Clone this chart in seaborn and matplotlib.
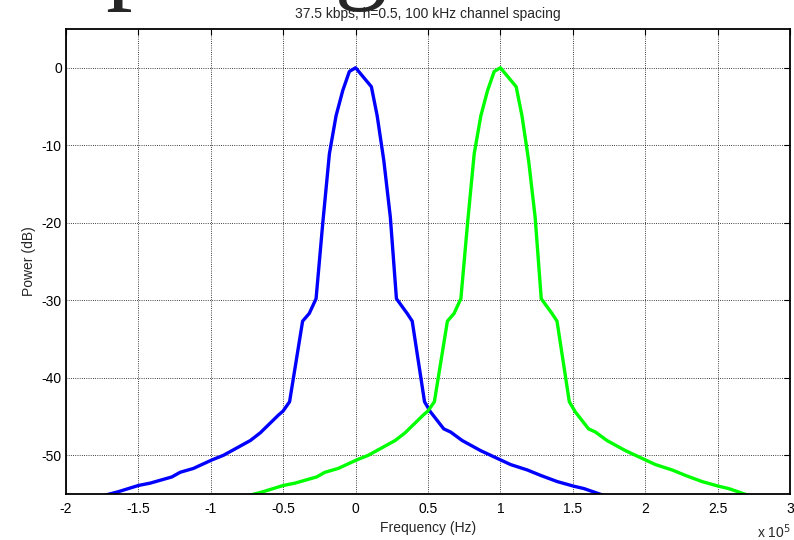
import numpy as np
import pandas as pd
import matplotlib
matplotlib.use('Agg')
import matplotlib.pyplot as plt
from matplotlib.ticker import FuncFormatter
import seaborn as sns

# frequency offsets from the carrier (units of 1e5 Hz) and power (dB)
offset = [-1.76, -1.719, -1.638, -1.5, -1.419, -1.269, -1.212, -1.12, -0.992, -0.912,
          -0.727, -0.658, -0.532, -0.501, -0.456, -0.366, -0.32, -0.273, -0.227, -0.181,
          -0.135, -0.089, -0.043, 0.0, 0.109, 0.149, 0.195, 0.24, 0.282, 0.356,
          0.391, 0.476, 0.517, 0.609, 0.656, 0.736, 0.863, 1.001, 1.07, 1.186,
          1.278, 1.393, 1.508, 1.577, 1.716, 1.76]
power = [-55.4, -55.1, -54.7, -53.9, -53.6, -52.8, -52.2, -51.7, -50.6, -50.0,
         -48.1, -47.1, -44.8, -44.3, -43.1, -32.7, -31.7, -29.8, -20.1, -11.1,
         -6.2, -2.96, -0.48, 0.0, -2.45, -6.2, -12.0, -19.3, -29.8, -31.7,
         -32.7, -43.1, -44.4, -46.6, -47.0, -48.1, -49.4, -50.6, -51.2, -51.9,
         -52.6, -53.4, -54.0, -54.3, -55.2, -55.5]
channel_spacing = 100e3   # Hz
carriers = [0.0, channel_spacing]
colors = ['#0000ff', '#00ff00']

frames = []
for k, fc in enumerate(carriers):
    frames.append(pd.DataFrame({'freq': np.array(offset) * 1e5 + fc,
                                'power': power,
                                'channel': k}))
df = pd.concat(frames, ignore_index=True)

sns.set_style('white')
plt.rcParams['font.family'] = ['Liberation Sans', 'DejaVu Sans']
plt.rcParams['axes.unicode_minus'] = False

fig = plt.figure(figsize=(7.94, 5.40), dpi=100)
ax = fig.add_axes([66 / 794, 46 / 540, 724 / 794, 465 / 540])

sns.lineplot(data=df, x='freq', y='power', hue='channel', palette=colors,
             sort=False, estimator=None, linewidth=2.4, legend=False, ax=ax)

ax.set_xlim(-2e5, 3e5)
ax.set_ylim(-55, 5)
ax.set_xticks(np.arange(-2e5, 3.01e5, 0.5e5))
ax.set_yticks(np.arange(-50, 1, 10))
ax.xaxis.set_major_formatter(FuncFormatter(lambda v, p: '%g' % (v / 1e5)))

ax.grid(True, color='black', linestyle=':', linewidth=0.6)
ax.tick_params(direction='in', length=4, width=0.8, top=True, right=True,
               labelsize=10, colors='black')
ax.tick_params(axis='x', pad=6)
ax.tick_params(axis='y', pad=3)
for s in ax.spines.values():
    s.set_color('black')
    s.set_linewidth(1.3)

ax.set_xlabel('Frequency (Hz)', fontsize=10, labelpad=3.5)
ax.set_ylabel('Power (dB)', fontsize=10, labelpad=4)
ax.set_title('37.5 kbps, h=0.5, 100 kHz channel spacing', fontsize=10, pad=8)

fig.text(757 / 794, 2 / 540, 'x 10$^{5}$', fontsize=10)
fig.text(66 / 794, 1 + 11 / 540, 'spacing', fontsize=76,
         family=['Liberation Serif', 'DejaVu Serif'], va='baseline', ha='left')

fig.savefig('out.png', dpi=100)
